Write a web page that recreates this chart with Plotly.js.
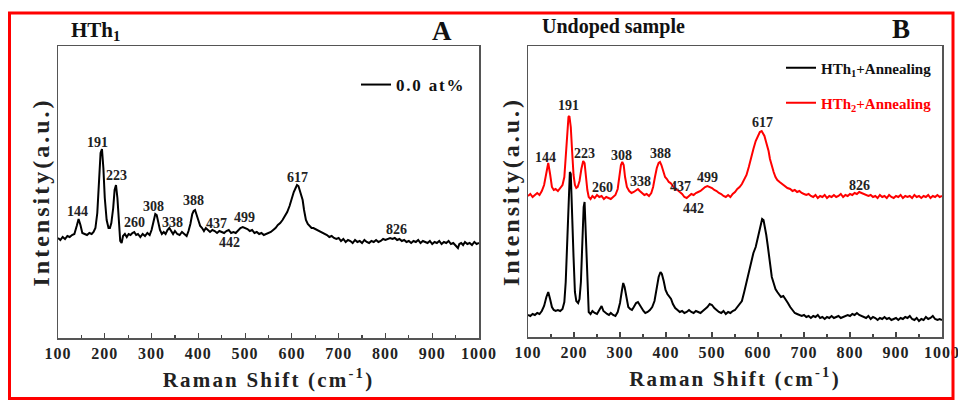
<!DOCTYPE html>
<html><head><meta charset="utf-8">
<script src="https://cdn.plot.ly/plotly-3.0.1.min.js"></script>
<style>
body{margin:0;background:#fff}
#chart{width:958px;height:403px}
text.xtitle, text.x2title {letter-spacing:2.2px}
text.ytitle, text.y2title {letter-spacing:3px}
g.xtick text, g.x2tick text {letter-spacing:1px}
text.legendtext{letter-spacing:1.8px}
g.legend2 text.legendtext, g.legend3 text.legendtext{letter-spacing:2.3px}
</style></head>
<body><div id="chart"></div>
<script>
// ---------- Panel A : HTh1, 0.0 at% ----------
const xA = [100,105,110,115,120,125,130,135,140,144,148,152,157,162,167,172,176,180,184,188,191,194,197,200,204,208,211,214,218,221,224,227,230,233,236,239,243,247,251,255,259,263,267,271,276,281,286,291,296,300,304,308,311,314,318,322,326,330,334,338,342,346,350,355,360,365,370,375,379,383,387,390,393,396,400,404,408,412,416,420,425,430,435,440,445,450,455,460,465,470,475,480,485,490,495,500,505,510,515,520,525,530,535,540,545,550,555,560,565,570,575,580,585,590,595,600,604,608,611,614,617,620,623,626,630,634,638,642,646,650,655,660,665,670,675,680,685,690,695,700,705,710,715,720,725,730,735,740,745,750,755,760,765,770,775,780,785,790,795,800,805,810,815,820,825,830,835,840,845,850,855,860,865,870,875,880,885,890,895,900,905,910,915,920,925,930,935,940,945,950,955,958,962,966,970,975,980,985,990,995,1000];
const yA = [100,98,101,99,102,101,103,104,112,119,113,105,104,103,105,104,106,110,125,160,185,189,170,140,118,110,110,115,130,148,153,140,115,97,95,102,104,101,104,103,105,106,103,104,101,104,102,105,103,108,116,124,123,116,108,104,106,104,108,110,107,104,107,104,103,106,104,102,107,114,124,127,128,124,118,112,110,107,110,108,106,108,107,105,107,106,105,107,108,105,106,105,108,110,111,110,109,107,108,105,106,104,105,103,104,105,106,108,110,113,115,118,122,126,132,140,146,150,153,152,148,144,138,128,118,114,112,110,110,109,108,107,106,104,103,101,102,100,99,100,97,99,96,98,97,95,98,96,97,95,98,96,95,97,96,98,96,97,99,98,99,100,99,100,98,99,97,98,96,97,95,97,96,98,95,97,96,95,97,94,96,95,97,94,96,95,97,94,95,92,90,94,95,93,96,94,95,93,96,94,95];
const peaksA = ['144','191','223','260','308','338','388','437','442','499','617','826'];
const peakAX = [141,185,225,264,304,344,389,439,466,499,611,823];
const peakAY = [127,196,163,116,132,116,138,115,96,121,161,109];

// ---------- Panel B : undoped sample ----------
const xB1 = [100,105,110,115,120,125,130,135,140,144,148,152,156,160,165,170,175,179,182,185,188,191,193,196,199,202,205,209,212,215,218,221,223,226,229,232,236,240,245,250,255,260,264,268,272,276,280,285,290,295,300,304,307,310,314,318,322,326,330,335,339,343,347,351,355,360,365,370,375,380,384,388,391,395,399,403,407,411,415,420,425,430,435,440,445,450,455,460,465,470,475,480,485,490,495,500,505,510,515,520,525,530,535,540,545,550,555,560,565,570,575,580,585,590,595,600,605,609,612,615,618,621,624,627,630,634,638,642,646,650,655,660,665,670,675,680,685,690,695,700,705,710,715,720,725,730,735,740,745,750,755,760,765,770,775,780,785,790,795,800,805,810,815,820,825,830,835,840,845,850,855,860,865,870,875,880,885,890,895,900,905,910,915,920,925,930,935,940,945,950,955,960,965,970,975,980,985,990,995,1000];
const yB1 = [22,21,23,22,24,23,26,31,40,45,38,30,27,26,27,26,28,35,55,95,140,165,163,130,80,45,36,34,38,55,95,130,135,100,50,25,23,26,24,23,27,31,26,24,23,22,24,22,21,25,34,46,54,50,38,30,28,27,30,34,35,32,28,26,24,25,27,30,36,48,60,65,63,56,47,43,41,38,33,29,27,25,26,24,25,27,25,24,26,25,24,26,28,30,33,32,29,27,25,24,26,23,25,24,26,27,30,32,36,45,55,66,76,84,90,100,112,118,117,110,102,92,80,68,60,54,48,45,42,40,41,38,34,30,27,24,23,22,21,22,20,21,19,21,20,22,19,20,18,20,19,21,19,20,21,19,20,21,22,21,23,22,24,22,21,20,19,21,18,20,19,17,19,18,20,18,19,17,18,19,17,19,18,20,19,21,18,17,19,16,18,17,20,18,19,21,18,17,18,17];
const xB2 = [100,105,110,115,120,125,130,135,140,144,148,152,156,160,165,170,175,179,182,185,188,190,193,196,199,202,205,208,212,216,220,223,226,229,232,236,240,245,250,255,260,265,270,275,280,285,290,295,299,302,305,308,311,315,320,325,330,335,339,343,348,353,358,363,368,372,376,380,384,387,390,394,398,402,406,410,415,420,425,430,435,440,445,450,455,460,465,470,475,480,485,490,495,500,505,510,515,520,525,530,535,540,545,550,555,560,565,570,575,580,585,590,595,600,604,608,611,614,617,620,623,626,630,634,638,642,647,652,658,664,670,675,680,685,690,695,700,705,710,715,720,725,730,735,740,745,750,755,760,765,770,775,780,785,790,795,800,805,810,815,820,825,830,835,840,845,850,855,860,865,870,875,880,885,890,895,900,905,910,915,920,925,930,935,940,945,950,955,960,965,970,975,980,985,990,995,1000];
const yB2 = [141,143,140,142,144,142,146,152,166,174,163,150,147,148,146,149,152,160,178,205,220,221,210,185,162,152,149,150,156,168,176,174,160,147,140,138,141,139,142,140,141,138,140,139,138,140,142,148,160,172,175,172,160,150,146,144,145,147,148,146,144,142,143,141,144,150,160,169,174,175,172,165,160,158,155,154,151,148,147,145,143,140,139,141,143,142,144,145,146,148,150,151,150,149,147,146,144,143,141,140,142,140,143,145,148,150,153,157,162,170,180,188,196,201,205,206,204,201,196,192,186,178,170,165,160,157,155,153,151,149,148,146,147,145,146,144,143,142,143,141,140,142,139,141,140,142,139,141,140,142,140,141,143,140,142,141,143,142,144,143,145,144,143,142,141,142,140,141,139,142,140,141,139,142,140,139,141,140,142,139,141,140,141,139,142,140,141,139,141,140,142,139,141,140,142,140,141];
const peaksB = ['144','191','223','260','308','338','388','437','442','499','617','826'];
const peakBX = [138,187,223,263,304,345,388,432,459,491,609,821];
const peakBY = [180,231,184,150,182,156,184,151,129,160,214,152];

const seriesNames = ['0.0 at%','HTh<sub>1</sub>+Annealing','HTh<sub>2</sub>+Annealing'];
const xTicks = [100,200,300,400,500,600,700,800,900,1000];

const FONT = 'Liberation Serif, Times New Roman, serif';
const W = 958, H = 403;
const px = v => v / W, py = v => 1 - v / H;

const traces = [
  {x: xA, y: yA, xaxis: 'x', yaxis: 'y', type: 'scatter', mode: 'lines', name: seriesNames[0],
   line: {color: '#000', width: 2}, legend: 'legend'},
  {x: xB1, y: yB1, xaxis: 'x2', yaxis: 'y2', type: 'scatter', mode: 'lines', name: seriesNames[1],
   line: {color: '#000', width: 2}, legend: 'legend2'},
  {x: xB2, y: yB2, xaxis: 'x2', yaxis: 'y2', type: 'scatter', mode: 'lines', name: seriesNames[2],
   line: {color: '#ff0000', width: 2}, legend: 'legend3'}
];

function xaxisDef(dom, anchor) {
  return {
    domain: dom, anchor: anchor, range: [100, 1000], tickvals: xTicks, ticklabeloverflow: 'allow',
    ticks: 'inside', ticklen: 5, tickwidth: 1.2, tickcolor: '#444',
    minor: {dtick: 50, tick0: 100, ticks: 'inside', ticklen: 3, tickcolor: '#444', showgrid: false},
    showline: true, linecolor: '#555', linewidth: 1.5, mirror: true,
    showgrid: false, zeroline: false, automargin: false,
    tickfont: {family: FONT, size: 16, color: '#222', weight: 'bold'},
    title: {text: 'Raman Shift (cm<sup>-1</sup>)', standoff: 11,
            font: {family: FONT, size: 21, color: '#222', weight: 'bold'}}
  };
}
function yaxisDef(dom, anchor, top) {
  return {
    domain: dom, anchor: anchor, range: [0, top],
    showticklabels: false, ticks: '', showline: true, linecolor: '#555', linewidth: 1.5, mirror: true,
    showgrid: false, zeroline: false, automargin: false,
    title: {text: 'Intensity(a.u.)', standoff: 0,
            font: {family: FONT, size: 24, color: '#222', weight: 'bold'}}
  };
}

const annotations = [];
peaksA.forEach((t, i) => annotations.push({xref: 'x', yref: 'y', x: peakAX[i], y: peakAY[i], text: t,
  showarrow: false, font: {family: FONT, size: 14, color: '#222', weight: 'bold'}}));
peaksB.forEach((t, i) => annotations.push({xref: 'x2', yref: 'y2', x: peakBX[i], y: peakBY[i], text: t,
  showarrow: false, font: {family: FONT, size: 14, color: '#222', weight: 'bold'}}));
annotations.push(
  {xref: 'paper', yref: 'paper', x: px(69), y: py(31), xanchor: 'left', yanchor: 'middle', text: 'HTh<sub>1</sub>',
   showarrow: false, font: {family: FONT, size: 21, color: '#111', weight: 'bold'}},
  {xref: 'paper', yref: 'paper', x: px(442), y: py(31), xanchor: 'center', yanchor: 'middle', text: 'A',
   showarrow: false, font: {family: FONT, size: 27, color: '#111', weight: 'bold'}},
  {xref: 'paper', yref: 'paper', x: px(540), y: py(27), xanchor: 'left', yanchor: 'middle', text: 'Undoped sample',
   showarrow: false, font: {family: FONT, size: 20, color: '#111', weight: 'bold'}},
  {xref: 'paper', yref: 'paper', x: px(901), y: py(29), xanchor: 'center', yanchor: 'middle', text: 'B',
   showarrow: false, font: {family: FONT, size: 27, color: '#111', weight: 'bold'}}
);

const legendBase = {bgcolor: 'rgba(0,0,0,0)', borderwidth: 0, xanchor: 'left', yanchor: 'middle', itemclick: false};
const layout = {
  width: W, height: H, margin: {l: 0, r: 0, t: 0, b: 0},
  paper_bgcolor: '#fff', plot_bgcolor: '#fff', showlegend: true,
  xaxis: xaxisDef([px(58), px(479)], 'y'),
  yaxis: yaxisDef([py(338), py(46)], 'x', 292),
  xaxis2: xaxisDef([px(528), px(942)], 'y2'),
  yaxis2: yaxisDef([py(337), py(46)], 'x2', 291),
  legend: Object.assign({}, legendBase, {x: px(356), y: py(85),
    font: {family: FONT, size: 17, color: '#111', weight: 'bold'}}),
  legend2: Object.assign({}, legendBase, {x: px(781), y: py(68),
    font: {family: FONT, size: 15, color: '#111', weight: 'bold'}}),
  legend3: Object.assign({}, legendBase, {x: px(781), y: py(103),
    font: {family: FONT, size: 15, color: '#ff0000', weight: 'bold'}}),
  annotations: annotations,
  shapes: [{type: 'rect', xref: 'paper', yref: 'paper', x0: px(9.5), x1: px(953), y0: py(398.5), y1: py(13),
            line: {color: '#ff0000', width: 3}, fillcolor: 'rgba(0,0,0,0)'}]
};

Plotly.newPlot('chart', traces, layout, {displayModeBar: false, staticPlot: true});
</script></body></html>
